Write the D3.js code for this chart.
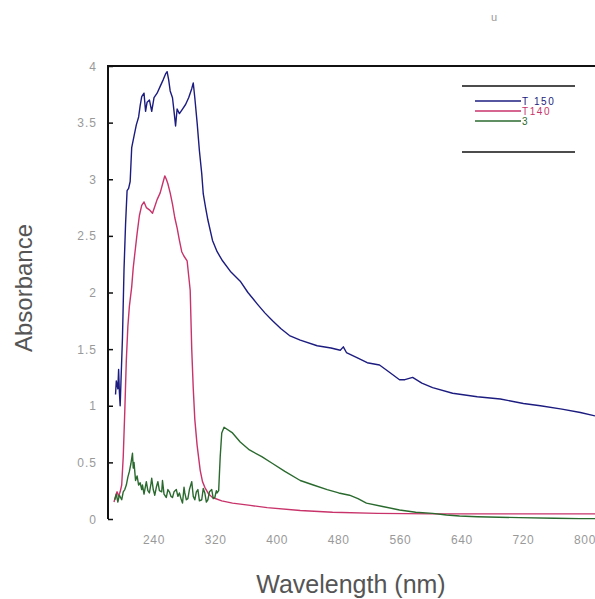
<!DOCTYPE html>
<html>
<head>
<meta charset="utf-8">
<script src="https://d3js.org/d3.v7.min.js"></script>
<style>
  body { margin: 0; padding: 0; background: #fff; }
  svg text { font-family: Arial, "Liberation Sans", sans-serif; }
</style>
</head>
<body>
<svg id="chart" width="595" height="599"></svg>
<script>
// ---- data ----
const seriesNames = ["T 150", "T140", "3"];
const seriesColors = ["#1c1c80", "#c8336a", "#2a6a2e"];

const t150 = [[190,1.10],[191,1.22],[193,1.15],[194,1.32],[195,1.12],[196,1.00],[197,1.20],[199,1.60],[201,2.20],[203,2.60],[205,2.90],[207,2.92],[209,2.98],[211,3.28],[214,3.38],[217,3.48],[220,3.55],[222,3.65],[224,3.73],[227,3.76],[229,3.60],[231,3.68],[234,3.70],[237,3.60],[240,3.72],[244,3.76],[248,3.82],[252,3.88],[255,3.93],[257,3.95],[259,3.88],[261,3.78],[264,3.72],[266,3.60],[268,3.47],[270,3.62],[273,3.58],[277,3.62],[281,3.66],[285,3.72],[289,3.80],[291,3.85],[293,3.72],[296,3.50],[299,3.25],[302,3.05],[304,2.87],[307,2.75],[310,2.64],[316,2.46],[322,2.36],[329,2.28],[340,2.18],[352,2.10],[362,2.00],[374,1.90],[384,1.82],[394,1.75],[405,1.68],[416,1.62],[430,1.58],[452,1.53],[470,1.51],[482,1.49],[486,1.52],[490,1.47],[505,1.42],[517,1.38],[533,1.36],[545,1.30],[559,1.23],[566,1.23],[576,1.25],[588,1.20],[602,1.16],[628,1.11],[660,1.08],[690,1.06],[720,1.02],[742,1.00],[770,0.97],[794,0.94],[813,0.91]];

const t140 = [[188,0.15],[190,0.20],[192,0.24],[194,0.20],[196,0.24],[198,0.30],[200,0.55],[202,0.95],[204,1.40],[206,1.70],[208,1.88],[211,2.05],[213,2.22],[215,2.34],[218,2.52],[221,2.68],[224,2.77],[227,2.80],[230,2.75],[234,2.73],[238,2.70],[241,2.76],[244,2.82],[248,2.88],[252,2.98],[254,3.03],[256,3.00],[258,2.96],[261,2.88],[264,2.78],[267,2.66],[270,2.57],[273,2.46],[276,2.36],[279,2.32],[283,2.28],[285,2.15],[287,2.02],[289,1.50],[291,1.15],[293,0.88],[296,0.65],[300,0.43],[303,0.33],[306,0.28],[311,0.22],[316,0.19],[328,0.16],[342,0.14],[365,0.12],[387,0.10],[430,0.075],[472,0.06],[530,0.05],[602,0.045],[700,0.045],[813,0.045]];

const s3 = [[189,0.17],[191,0.22],[193,0.15],[195,0.21],[198,0.17],[200,0.24],[202,0.26],[204,0.30],[206,0.37],[208,0.42],[210,0.49],[212,0.58],[213,0.45],[214,0.50],[216,0.34],[218,0.38],[220,0.30],[222,0.32],[224,0.26],[225,0.30],[227,0.22],[230,0.33],[232,0.25],[234,0.23],[236,0.31],[237,0.36],[239,0.26],[241,0.21],[243,0.28],[245,0.33],[247,0.25],[250,0.24],[251,0.34],[253,0.22],[256,0.19],[258,0.26],[260,0.24],[262,0.20],[264,0.19],[266,0.24],[269,0.26],[271,0.20],[273,0.23],[275,0.18],[277,0.14],[279,0.28],[280,0.23],[282,0.17],[284,0.18],[286,0.26],[289,0.33],[291,0.20],[293,0.17],[295,0.24],[297,0.26],[299,0.16],[302,0.17],[304,0.27],[306,0.23],[308,0.15],[310,0.17],[312,0.24],[315,0.26],[317,0.18],[319,0.19],[321,0.25],[322,0.23],[324,0.25],[326,0.55],[328,0.76],[331,0.81],[342,0.76],[352,0.68],[364,0.61],[380,0.55],[394,0.49],[410,0.42],[430,0.34],[447,0.30],[465,0.26],[480,0.23],[494,0.21],[505,0.18],[516,0.14],[537,0.11],[559,0.08],[580,0.06],[602,0.05],[620,0.035],[637,0.026],[660,0.02],[715,0.012],[760,0.006],[793,0.003],[813,0.003]];

const xTicks = [240, 320, 400, 480, 560, 640, 720, 800];
const yTicks = [0, 0.5, 1, 1.5, 2, 2.5, 3, 3.5, 4];

const svg = d3.select("#chart");
const plotL = 108, plotR = 595, plotT = 66, plotB = 519;

const x = d3.scaleLinear().domain([180.2, 813]).range([plotL, plotR]);
const y = d3.scaleLinear().domain([0, 4]).range([plotB, plotT]);

// lines
const line = d3.line().x(d => x(d[0])).y(d => y(d[1]));
[t150, t140, s3].forEach((s, i) => {
    svg.append("path")
        .datum(s)
        .attr("d", line)
        .attr("fill", "none")
        .attr("stroke", seriesColors[i])
        .attr("stroke-width", 1.4)
        .attr("stroke-linejoin", "round");
});

// y axis, ticks inside
const yAxis = svg.append("g")
    .attr("transform", "translate(" + plotL + ",0)")
    .call(d3.axisRight(y).tickValues(yTicks).tickSize(5).tickFormat(d3.format("")));
yAxis.select(".domain").remove();
yAxis.selectAll("text").remove();
yAxis.selectAll("line").attr("stroke", "#111").attr("stroke-width", 1.5);

svg.append("line")
    .attr("x1", plotL).attr("x2", plotL).attr("y1", plotT).attr("y2", plotB)
    .attr("stroke", "#111").attr("stroke-width", 2);
svg.append("line")
    .attr("x1", plotL - 1).attr("x2", plotR).attr("y1", plotT).attr("y2", plotT)
    .attr("stroke", "#111").attr("stroke-width", 2);

svg.selectAll("text.ylab").data(yTicks)
    .join("text")
    .attr("class", "ylab")
    .attr("x", 97)
    .attr("y", d => y(d) + 4.5)
    .attr("text-anchor", "end")
    .attr("font-size", 12)
    .attr("letter-spacing", 1)
    .attr("fill", "#999")
    .text(d => d);

svg.selectAll("text.xlab").data(xTicks)
    .join("text")
    .attr("class", "xlab")
    .attr("x", d => x(d))
    .attr("y", 544)
    .attr("text-anchor", "middle")
    .attr("font-size", 12)
    .attr("letter-spacing", 0.6)
    .attr("fill", "#999")
    .text(d => d);

// axis titles
svg.append("text")
    .attr("transform", "translate(32,288) rotate(-90)")
    .attr("text-anchor", "middle")
    .attr("font-size", 24)
    .attr("fill", "#555")
    .attr("font-family", "'Open Sans', sans-serif")
    .text("Absorbance");

svg.append("text")
    .attr("x", 351)
    .attr("y", 593)
    .attr("text-anchor", "middle")
    .attr("font-size", 25)
    .attr("fill", "#555")
    .attr("font-family", "'Open Sans', sans-serif")
    .text("Wavelength (nm)");

svg.append("text")
    .attr("x", 494)
    .attr("y", 21)
    .attr("text-anchor", "middle")
    .attr("font-size", 11)
    .attr("fill", "#999")
    .text("u");

// legend
const lg = svg.append("g");
lg.append("line").attr("x1", 462).attr("x2", 575).attr("y1", 86).attr("y2", 86)
    .attr("stroke", "#111").attr("stroke-width", 1.5);
lg.append("line").attr("x1", 462).attr("x2", 575).attr("y1", 152).attr("y2", 152)
    .attr("stroke", "#111").attr("stroke-width", 1.5);
seriesNames.forEach((n, i) => {
    const yy = 101 + i * 10;
    lg.append("line").attr("x1", 475).attr("x2", 521).attr("y1", yy).attr("y2", yy)
        .attr("stroke", seriesColors[i]).attr("stroke-width", 1.3);
    lg.append("text").attr("x", 522).attr("y", yy + 3.5)
        .attr("font-size", 10)
        .attr("letter-spacing", 1.6)
        .attr("fill", seriesColors[i])
        .text(n);
});
</script>
</body>
</html>
